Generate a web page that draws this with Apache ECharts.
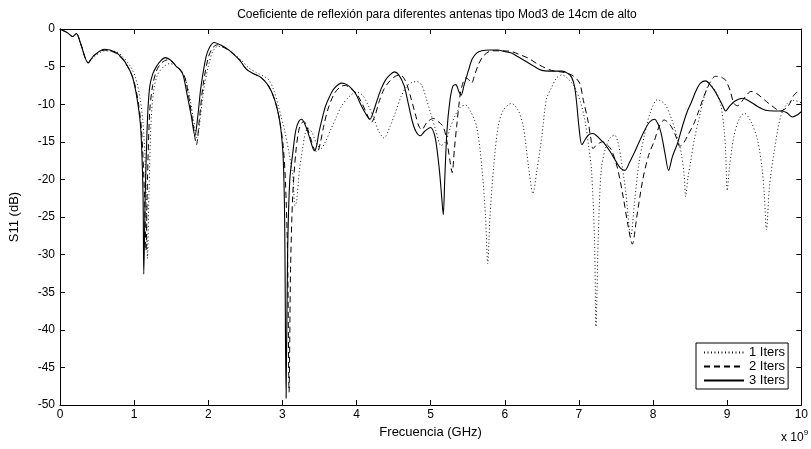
<!DOCTYPE html>
<html>
<head>
<meta charset="utf-8">
<script src="https://cdn.jsdelivr.net/npm/echarts@6/dist/echarts.min.js"></script>
<style>html,body{margin:0;padding:0;background:#fff}#c{width:811px;height:449px}</style>
</head>
<body>
<div id="c"></div>
<script>
// Frequencies in GHz (axis shows x 10^9 Hz)
var xTicks = [0,1,2,3,4,5,6,7,8,9,10];
var yTicks = [0,-5,-10,-15,-20,-25,-30,-35,-40,-45,-50];

var f1 = [0,0.1,0.17,0.22,0.28,0.38,0.45,0.6,0.75,0.85,0.95,1.02,1.08,1.12,1.15,1.17,1.18,1.20,1.23,1.27,1.32,1.40,1.48,1.55,1.62,1.68,1.74,1.80,1.85,1.89,1.94,2.00,2.06,2.13,2.22,2.32,2.45,2.55,2.65,2.75,2.82,2.89,2.96,3.03,3.09,3.14,3.17,3.19,3.23,3.27,3.31,3.35,3.40,3.46,3.52,3.58,3.65,3.72,3.80,3.90,4.00,4.08,4.15,4.23,4.30,4.37,4.45,4.52,4.60,4.68,4.75,4.82,4.88,4.94,5.00,5.07,5.14,5.20,5.27,5.34,5.40,5.47,5.54,5.62,5.69,5.74,5.77,5.80,5.85,5.91,5.98,6.09,6.18,6.25,6.32,6.38,6.43,6.50,6.56,6.63,6.70,6.77,6.85,6.94,7.02,7.08,7.13,7.17,7.21,7.23,7.26,7.30,7.36,7.42,7.48,7.53,7.57,7.63,7.70,7.75,7.81,7.88,7.96,8.06,8.16,8.24,8.32,8.38,8.42,8.44,8.47,8.51,8.56,8.63,8.69,8.76,8.84,8.91,8.96,8.98,9.00,9.03,9.09,9.16,9.23,9.32,9.41,9.47,9.50,9.53,9.57,9.63,9.72,9.81,9.90,10.0];
var s1 = [0,-0.5,-1.0,-0.6,-2.0,-4.4,-3.8,-2.9,-3.0,-3.7,-5.0,-6.5,-9.2,-12.5,-18,-26,-30.5,-22,-12,-7.8,-6.0,-5.0,-4.6,-4.8,-5.4,-6.3,-8.5,-12,-14.5,-12,-8,-5,-3.0,-2.3,-2.5,-3.1,-4.2,-5.2,-5.8,-6.3,-6.8,-8.3,-10.8,-13.5,-16.5,-19.5,-23.5,-23.0,-18.8,-16.1,-13.8,-13.2,-13.8,-15.2,-15.9,-15.0,-13.4,-11.9,-10.2,-9.0,-8.4,-8.8,-10.0,-11.8,-13.6,-14.5,-13.0,-11.2,-9.0,-7.6,-7.1,-7.0,-7.5,-9.2,-11.2,-13.5,-15.5,-15.0,-13.0,-11.3,-10.4,-10.1,-11.0,-13.0,-18.3,-25,-31.2,-25,-18.3,-13.0,-10.8,-9.9,-10.8,-13.0,-18.3,-21.9,-19,-14.3,-9.4,-7.8,-6.5,-6.1,-6.6,-7.7,-9.7,-12.1,-15.5,-18.8,-28,-39.6,-28,-18.8,-15.8,-14.5,-14.1,-15.2,-17.4,-21.5,-27.6,-23,-17.8,-14.3,-11.2,-9.4,-10.0,-11.7,-14.2,-16.5,-19.5,-22.3,-19.8,-17.5,-14.5,-11.5,-9.0,-7.4,-8.2,-9.9,-13.5,-16.5,-21.5,-18.5,-14.3,-12.0,-11.2,-12.3,-14.8,-18.5,-21.9,-26.7,-21,-16.5,-11.7,-9.9,-9.5,-9.8];

var f2 = [0,0.1,0.17,0.22,0.28,0.38,0.45,0.6,0.75,0.85,0.94,1.00,1.06,1.10,1.14,1.16,1.18,1.21,1.25,1.30,1.36,1.45,1.52,1.58,1.64,1.69,1.75,1.80,1.84,1.88,1.93,2.00,2.06,2.12,2.20,2.30,2.42,2.51,2.60,2.69,2.76,2.82,2.88,2.93,2.97,3.01,3.04,3.07,3.09,3.11,3.14,3.18,3.22,3.26,3.29,3.33,3.38,3.43,3.47,3.51,3.56,3.62,3.70,3.78,3.85,3.92,4.00,4.07,4.14,4.20,4.25,4.30,4.37,4.45,4.52,4.59,4.66,4.72,4.79,4.84,4.88,4.95,5.04,5.10,5.17,5.22,5.26,5.29,5.32,5.35,5.38,5.40,5.44,5.47,5.51,5.55,5.60,5.65,5.72,5.82,5.95,6.09,6.20,6.32,6.45,6.55,6.63,6.75,6.85,6.93,7.01,7.06,7.12,7.16,7.19,7.24,7.32,7.38,7.44,7.52,7.60,7.66,7.72,7.78,7.86,7.94,8.02,8.08,8.15,8.21,8.27,8.32,8.36,8.41,8.47,8.55,8.62,8.68,8.74,8.79,8.84,8.90,8.95,8.98,9.04,9.09,9.14,9.20,9.26,9.32,9.40,9.50,9.60,9.72,9.81,9.86,9.90,9.95,10.0];
var s2 = [0,-0.5,-1.0,-0.6,-2.0,-4.5,-3.6,-2.8,-3.2,-4.1,-5.5,-7.0,-10,-13.5,-22,-29.5,-20,-11,-7.5,-5.6,-4.6,-4.1,-4.4,-5.1,-5.6,-6.6,-9.8,-13,-15.4,-12,-7.5,-3.8,-2.5,-2.1,-2.4,-3.0,-4.1,-5.3,-5.9,-6.3,-6.9,-7.7,-9.0,-10.6,-12.6,-15.5,-20,-30,-48.3,-32,-22,-16.5,-13.5,-12.5,-12.3,-13.0,-14.5,-16.0,-16.4,-15.2,-12.8,-10.5,-8.6,-7.7,-7.5,-7.9,-8.6,-9.8,-11.3,-12.4,-11.5,-9.8,-8.0,-6.9,-6.3,-6.1,-6.9,-8.7,-11.2,-12.9,-13.4,-12.4,-11.9,-12.3,-13.0,-15.0,-17.5,-19.1,-16,-13.0,-10.2,-8.6,-7.0,-6.5,-6.7,-7.2,-5.9,-4.6,-3.5,-2.9,-2.9,-3.0,-3.4,-3.9,-4.7,-5.2,-5.5,-5.7,-5.9,-6.3,-7.2,-9.5,-12.1,-14.5,-15.9,-15.4,-15.0,-15.4,-16.1,-18.5,-22.5,-26,-28.6,-25,-20.1,-16.8,-14.8,-13.0,-12.1,-12.5,-13.4,-14.6,-15.6,-15.2,-14.1,-12.6,-10.8,-9.1,-7.7,-6.7,-6.3,-6.3,-6.6,-6.8,-8.2,-9.9,-10.2,-9.6,-8.8,-8.3,-8.6,-9.4,-10.2,-10.9,-10.4,-9.6,-8.8,-8.4,-8.7];

var f3 = [0,0.1,0.17,0.22,0.28,0.38,0.45,0.6,0.75,0.85,0.94,0.99,1.05,1.09,1.12,1.13,1.15,1.18,1.21,1.25,1.30,1.36,1.42,1.50,1.57,1.61,1.66,1.72,1.77,1.82,1.86,1.90,1.97,2.02,2.08,2.18,2.28,2.42,2.51,2.60,2.69,2.76,2.82,2.87,2.91,2.95,2.98,3.01,3.03,3.05,3.07,3.10,3.14,3.18,3.22,3.26,3.30,3.34,3.39,3.43,3.46,3.49,3.54,3.58,3.64,3.70,3.80,3.87,3.94,4.00,4.05,4.12,4.18,4.23,4.28,4.33,4.39,4.45,4.51,4.57,4.64,4.70,4.75,4.80,4.86,4.92,5.00,5.05,5.08,5.12,5.15,5.17,5.19,5.22,5.26,5.30,5.34,5.38,5.41,5.45,5.51,5.56,5.62,5.69,5.80,5.90,6.00,6.09,6.18,6.30,6.40,6.50,6.60,6.70,6.77,6.85,6.90,6.94,6.97,7.00,7.04,7.09,7.14,7.19,7.25,7.30,7.35,7.42,7.50,7.56,7.62,7.68,7.74,7.80,7.88,7.95,8.02,8.07,8.11,8.16,8.21,8.26,8.33,8.40,8.46,8.51,8.58,8.64,8.71,8.77,8.83,8.87,8.93,8.98,9.03,9.10,9.21,9.30,9.41,9.52,9.63,9.72,9.80,9.88,9.95,10.0];
var s3 = [0,-0.5,-1.0,-0.6,-2.0,-4.5,-3.6,-2.7,-3.1,-4.0,-5.5,-6.8,-9.9,-13.4,-22,-32.6,-22,-12,-7.7,-6.0,-5.0,-4.2,-3.8,-4.2,-5.0,-5.3,-6.1,-9.0,-11.5,-14.2,-11.5,-7.8,-3.7,-2.4,-1.8,-2.2,-2.8,-4.1,-5.3,-5.9,-6.3,-6.9,-7.7,-8.7,-9.9,-11.5,-13.4,-17,-25,-49.1,-30,-20,-16.5,-13.5,-12.3,-12.0,-12.6,-13.6,-15.2,-16.2,-15.6,-13.9,-11.8,-10.3,-8.9,-7.9,-7.2,-7.4,-8.0,-8.8,-9.9,-11.2,-12.0,-10.9,-9.4,-8.0,-6.8,-6.1,-5.7,-6.1,-7.5,-10,-12.2,-13.6,-14.2,-13.6,-13.1,-14.0,-15.6,-19,-22.5,-24.7,-20,-13.5,-9.5,-7.6,-7.4,-8.3,-8.8,-7.5,-5.5,-4.0,-3.2,-2.9,-2.8,-2.8,-3.0,-3.2,-3.7,-4.4,-5.0,-5.5,-5.6,-5.6,-5.6,-5.9,-6.4,-7.6,-9.9,-13,-15.4,-14.6,-14.0,-13.9,-14.3,-14.8,-15.3,-16.3,-17.6,-18.5,-18.8,-17.8,-16.6,-15.3,-13.6,-12.4,-12.0,-12.7,-13.9,-16.5,-18.8,-17.0,-15.2,-12.8,-11.0,-9.9,-8.2,-7.2,-6.9,-7.4,-8.2,-8.9,-10.0,-10.9,-10.3,-9.6,-9.2,-9.6,-10.3,-10.8,-10.9,-10.9,-11.1,-11.7,-11.4,-11.0];

var names = ['1 Iters','2 Iters','3 Iters'];
var titleText = 'Coeficiente de reflexión para diferentes antenas tipo Mod3 de 14cm de alto';

function pairs(f, s){ return f.map(function(v,i){ return [v, s[i]]; }); }

var chart = echarts.init(document.getElementById('c'), null, {renderer:'canvas'});
var font = 'Liberation Sans, Arial, Helvetica, sans-serif';
var axBase = {
  type:'value', splitLine:{show:false},
  axisLine:{show:true, onZero:false, lineStyle:{color:'#000', width:1}},
  axisTick:{show:true, inside:true, length:5, lineStyle:{color:'#000'}}
};
chart.setOption({
  backgroundColor:'#fff',
  animation:false,
  textStyle:{fontFamily:font},
  title:{text:titleText, left:432, top:4, textAlign:'center',
    textStyle:{fontSize:12, fontWeight:'normal', color:'#000', fontFamily:font}},
  grid:{left:60, right:6, top:29, bottom:44, containLabel:false},
  legend:{
    data:names, orient:'vertical', left:696, top:343,
    backgroundColor:'#fff', borderColor:'#000', borderWidth:1,
    padding:[3,3,2,7], itemWidth:40, itemHeight:15, itemGap:1,
    itemStyle:{color:'rgba(0,0,0,0)', borderColor:'rgba(0,0,0,0)', borderWidth:0},
    textStyle:{fontSize:13, color:'#000', fontFamily:font}
  },
  xAxis:[
    Object.assign({}, axBase, {min:0, max:10, interval:1, position:'bottom',
      name:'Frecuencia (GHz)', nameLocation:'middle', nameGap:19,
      nameTextStyle:{fontSize:13, color:'#000'},
      axisLabel:{fontSize:12, color:'#000', margin:4}}),
    Object.assign({}, axBase, {min:0, max:10, interval:1, position:'top', axisLabel:{show:false}})
  ],
  yAxis:[
    Object.assign({}, axBase, {min:-50, max:0, interval:5, position:'left',
      name:'S11 (dB)', nameLocation:'middle', nameGap:39, nameRotate:90,
      nameTextStyle:{fontSize:13, color:'#000'},
      axisLabel:{fontSize:12, color:'#000', margin:5}}),
    Object.assign({}, axBase, {min:-50, max:0, interval:5, position:'right', axisLabel:{show:false}})
  ],
  graphic:[{
    type:'text', left:781, top:429,
    style:{text:'{a|x 10}{b|9}', rich:{a:{fontSize:12, fill:'#000', fontFamily:font, padding:[6,0,0,0]}, b:{fontSize:8, fill:'#000', fontFamily:font, padding:[0,0,4,0]}}}
  }],
  series:[
    {name:names[0], type:'line', data:pairs(f1,s1), showSymbol:false, symbol:'none', smooth:0.3,
      lineStyle:{color:'#111', width:1, type:[1,2.5]}, itemStyle:{color:'#000'}},
    {name:names[1], type:'line', data:pairs(f2,s2), showSymbol:false, symbol:'none', smooth:0.3,
      lineStyle:{color:'#000', width:1, type:[6,4]}, itemStyle:{color:'#000'}},
    {name:names[2], type:'line', data:pairs(f3,s3), showSymbol:false, symbol:'none', smooth:0.3,
      lineStyle:{color:'#000', width:1.1}, itemStyle:{color:'#000'}}
  ]
});
</script>
</body>
</html>
